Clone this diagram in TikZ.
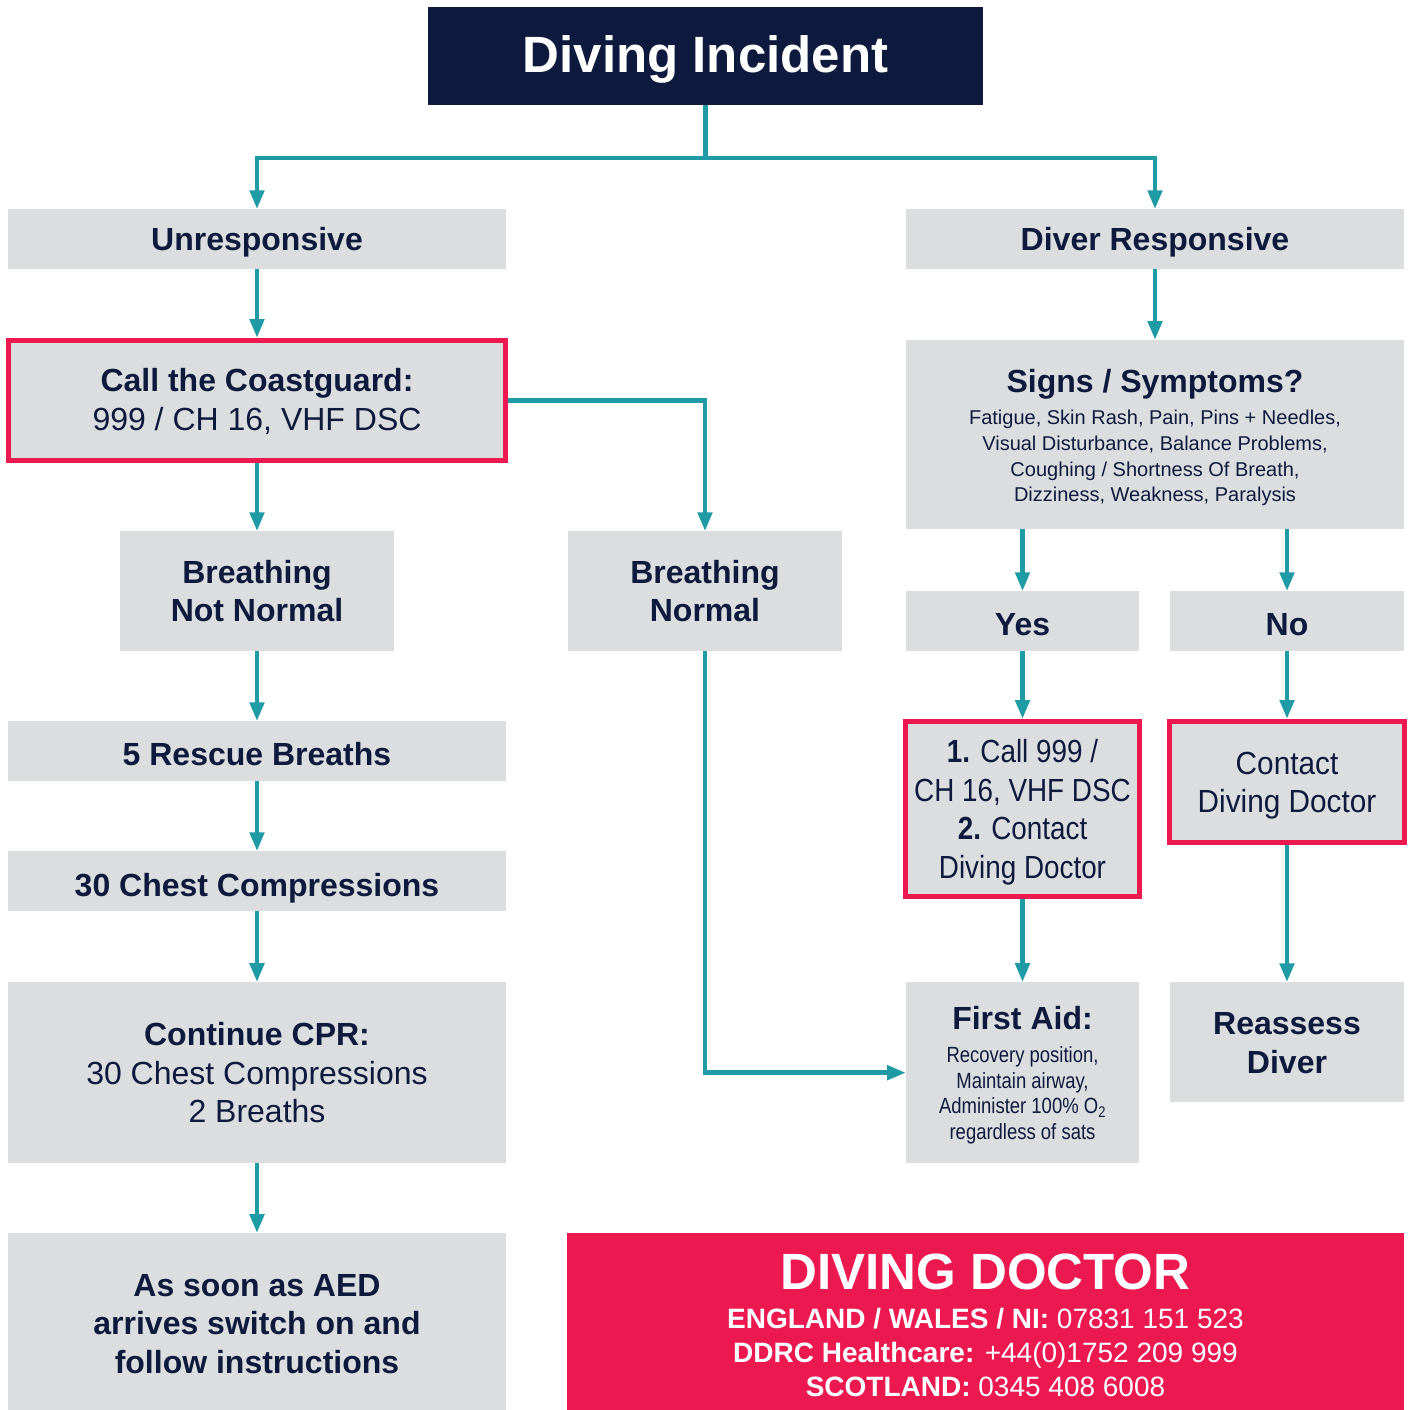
\documentclass[tikz,border=0pt]{standalone}
\usepackage{fontspec}
\setmainfont{Liberation Sans}
\newfontfamily\narrowA{Liberation Sans}[FakeStretch=0.87]
\newfontfamily\narrowB{Liberation Sans}[FakeStretch=0.93]
\newfontfamily\narrowC{Liberation Sans}[FakeStretch=0.84]
\usetikzlibrary{arrows.meta}
\definecolor{navyc}{HTML}{0E1A3D}
\definecolor{tealc}{HTML}{1F9BA5}
\definecolor{redc}{HTML}{EC1850}
\definecolor{grayc}{HTML}{DCDDDF}
\begin{document}
\begin{tikzpicture}[x=1pt,y=-1pt,
  box/.style={fill=grayc, text=navyc, inner sep=0pt, outer sep=0pt, align=center, text depth=0pt},
  rbox/.style={box, draw=redc, line width=5pt, outer sep=2.5pt},
  bf/.style={font=\fontsize{32}{38.4}\selectfont\bfseries},
  rg/.style={font=\fontsize{32}{38.4}\selectfont},
  arr/.style={draw=tealc, line width=4.8pt, -{Triangle[length=19pt,width=14pt]}},
]
\useasboundingbox (0,0) rectangle (1410,1410);

\node[box, fill=navyc, text=white, font=\fontsize{51}{60}\selectfont\bfseries,
  minimum width=555pt, minimum height=98pt, text height=33.4pt]
  (title) at (705.5,56) {Diving Incident};

\node[box, bf, minimum width=498pt, minimum height=60pt, text height=23pt]
  (unresp) at (257,239.3) {Unresponsive};
\node[box, bf, minimum width=498pt, minimum height=60pt, text height=23pt]
  (dresp) at (1155,239.3) {Diver Responsive};

\node[rbox, rg, minimum width=497pt, minimum height=120pt, text height=59pt]
  (cg) at (257,400.5) {\bfseries Call the Coastguard:\\ 999 / CH 16, VHF DSC};

\node[box, bf, minimum width=274pt, minimum height=120pt, text height=60.8pt]
  (bnn) at (257,591.3) {Breathing\\ Not Normal};
\node[box, bf, minimum width=274pt, minimum height=120pt, text height=60.8pt]
  (bn) at (705,591.3) {Breathing\\ Normal};

\node[box, bf, minimum width=498pt, minimum height=60pt, text height=29pt]
  (rescue) at (257,751.3) {5 Rescue Breaths};
\node[box, bf, minimum width=498pt, minimum height=60pt, text height=29.4pt]
  (chest) at (257,881.3) {30 Chest Compressions};

\node[box, rg, minimum width=498pt, minimum height=181pt, text height=100pt]
  (cpr) at (257,1072.7) {\bfseries Continue CPR:\\ 30 Chest Compressions\\ 2 Breaths};

\node[box, bf, minimum width=498pt, minimum height=177pt, text height=103.2pt]
  (aed) at (257,1321.7) {As soon as AED\\ arrives switch on and\\ follow instructions};

\node[box, font=\fontsize{20}{25.6}\selectfont, minimum width=498pt, minimum height=189pt,
  text height=134.4pt]
  (signs) at (1155,434.5) {{\fontsize{32}{38}\selectfont\bfseries Signs / Symptoms?}\\[7.1pt]
  Fatigue, Skin Rash, Pain, Pins + Needles,\\ Visual Disturbance, Balance Problems,\\
  Coughing / Shortness Of Breath,\\ Dizziness, Weakness, Paralysis};

\node[box, bf, minimum width=233pt, minimum height=60pt, text height=27.4pt]
  (yes) at (1022.5,621.3) {Yes};
\node[box, bf, minimum width=234pt, minimum height=60pt, text height=27.4pt]
  (no) at (1287,621.3) {No};

\node[rbox, font=\narrowA\fontsize{32}{38.5}\selectfont, minimum width=234pt, minimum height=175pt,
  text height=138.6pt]
  (call) at (1022.5,809) {{\bfseries 1.} Call 999 /\\ CH 16, VHF DSC\\ {\bfseries 2.} Contact\\ Diving Doctor};

\node[rbox, font=\narrowB\fontsize{32}{38.7}\selectfont, minimum width=235pt, minimum height=121pt,
  text height=61.4pt]
  (contact) at (1287,782) {Contact\\ Diving Doctor};

\node[box, font=\narrowC\fontsize{22}{25.6}\selectfont, minimum width=233pt, minimum height=181pt,
  text height=133.2pt]
  (fa) at (1022.5,1072.7) {{\rmfamily\fontsize{32}{38}\selectfont\bfseries First Aid:}\\[7.1pt]
  Recovery position,\\ Maintain airway,\\ Administer 100\% O\textsubscript{2}\\ regardless of sats};

\node[box, bf, minimum width=234pt, minimum height=120pt, text height=62pt]
  (reassess) at (1287,1042.3) {Reassess\\ Diver};

\node[box, fill=redc, text=white, font=\fontsize{28}{34}\selectfont, minimum width=837pt,
  minimum height=177pt, text height=150.4pt]
  (dd) at (985.5,1321.5) {{\fontsize{51}{60}\selectfont\bfseries DIVING DOCTOR}\\[5.3pt]
  {\bfseries ENGLAND / WALES / NI:} 07831 151 523\\
  {\bfseries DDRC Healthcare:} +44(0)1752 209 999\\
  {\bfseries SCOTLAND:} 0345 408 6008};

% connectors
\draw[arr] (title.south) -- ++(0,53) -| (unresp.north);
\draw[arr] (title.south) -- ++(0,53) -| (dresp.north);
\draw[arr] (unresp.south) -- (cg.north);
\draw[arr] (cg.south) -- (bnn.north);
\draw[arr] (cg.east) -| (bn.north);
\draw[arr] (bnn.south) -- (rescue.north);
\draw[arr] (rescue.south) -- (chest.north);
\draw[arr] (chest.south) -- (cpr.north);
\draw[arr] (cpr.south) -- (aed.north);
\draw[arr] (bn.south) |- (fa.west);
\draw[arr] (dresp.south) -- (signs.north);
\draw[arr] (signs.south -| yes.north) -- (yes.north);
\draw[arr] (signs.south -| no.north) -- (no.north);
\draw[arr] (yes.south) -- (call.north);
\draw[arr] (call.south) -- (fa.north);
\draw[arr] (no.south) -- (contact.north);
\draw[arr] (contact.south) -- (reassess.north);
\end{tikzpicture}
\end{document}
